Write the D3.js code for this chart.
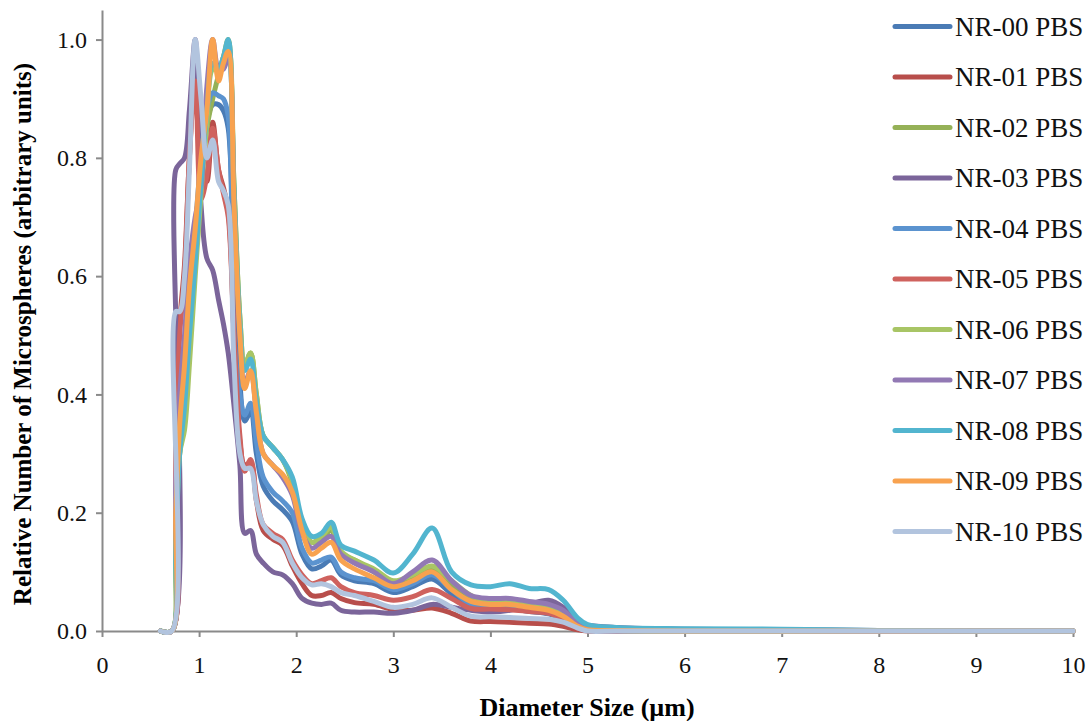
<!DOCTYPE html>
<html>
<head>
<meta charset="utf-8">
<script src="https://cdn.jsdelivr.net/npm/d3@7"></script>
<style>
  body { margin: 0; background: #fff; }
  svg { display: block; }
  svg text { font-family: "Liberation Serif", "Times New Roman", serif; }
</style>
</head>
<body>
<svg width="1088" height="721"></svg>
<script>
// diameter bins (µm), shared by every sample
const diameters = [0.6, 0.72, 0.76, 0.8, 0.85, 0.9, 0.96, 1.02, 1.08, 1.14, 1.2, 1.25, 1.3, 1.36, 1.42, 1.47,
    1.53, 1.59, 1.66, 1.76, 1.86, 1.96, 2.06, 2.16, 2.26, 2.36, 2.46, 2.6, 2.8, 3.0, 3.2, 3.4, 3.6, 3.8,
    4.0, 4.2, 4.4, 4.6, 4.75, 4.9, 5.0, 5.3, 6, 7, 8, 9, 10];

const seriesNames = ["NR-00 PBS", "NR-01 PBS", "NR-02 PBS", "NR-03 PBS", "NR-04 PBS", "NR-05 PBS",
    "NR-06 PBS", "NR-07 PBS", "NR-08 PBS", "NR-09 PBS", "NR-10 PBS"];

const seriesColors = ["#4a7bb5", "#b84e4b", "#95b157", "#7b659a", "#5b93cf", "#cf625e",
    "#a8c565", "#9279b4", "#52b5cf", "#f8a24f", "#b2c4de"];

const nr00 = [0, 0, 0.18, 0.33, 0.44, 0.54, 0.66, 0.78, 0.86, 0.89, 0.89, 0.88, 0.85, 0.6, 0.42, 0.355,
    0.37, 0.3, 0.245, 0.22, 0.205, 0.185, 0.13, 0.105, 0.11, 0.12, 0.095, 0.085, 0.08, 0.065, 0.075, 0.088,
    0.063, 0.043, 0.038, 0.038, 0.033, 0.029, 0.02, 0.005, 0.001, 0, 0, 0, 0, 0, 0];
const nr01 = [0, 0, 0.35, 0.52, 0.62, 0.8, 0.95, 0.8, 0.76, 0.86, 0.78, 0.75, 0.71, 0.5, 0.32, 0.28,
    0.285, 0.22, 0.17, 0.155, 0.145, 0.11, 0.08, 0.06, 0.06, 0.065, 0.055, 0.048, 0.045, 0.036, 0.035, 0.039,
    0.03, 0.017, 0.016, 0.015, 0.013, 0.012, 0.008, 0.002, 0, 0, 0, 0, 0, 0, 0];
const nr02 = [0, 0, 0.15, 0.3, 0.36, 0.5, 0.62, 0.75, 0.85, 0.9, 0.94, 0.97, 1.0, 0.75, 0.53, 0.45,
    0.47, 0.4, 0.33, 0.31, 0.29, 0.25, 0.18, 0.15, 0.155, 0.17, 0.13, 0.12, 0.1, 0.08, 0.09, 0.105,
    0.08, 0.055, 0.045, 0.045, 0.04, 0.035, 0.025, 0.008, 0.003, 0.001, 0, 0, 0, 0, 0];
const nr03 = [0, 0, 0.78, 0.79, 0.8, 0.88, 1.0, 0.72, 0.63, 0.61, 0.56, 0.52, 0.47, 0.38, 0.28, 0.165,
    0.17, 0.13, 0.115, 0.1, 0.095, 0.08, 0.055, 0.047, 0.045, 0.047, 0.035, 0.032, 0.032, 0.03, 0.035, 0.045,
    0.04, 0.035, 0.032, 0.035, 0.045, 0.052, 0.04, 0.015, 0.01, 0.006, 0.003, 0.002, 0.001, 0, 0];
const nr04 = [0, 0, 0.2, 0.35, 0.45, 0.55, 0.68, 0.8, 0.88, 0.91, 0.905, 0.9, 0.87, 0.5, 0.4, 0.365,
    0.385, 0.32, 0.26, 0.235, 0.22, 0.2, 0.14, 0.115, 0.12, 0.125, 0.1, 0.09, 0.085, 0.07, 0.08, 0.095,
    0.07, 0.045, 0.04, 0.04, 0.035, 0.03, 0.022, 0.006, 0.002, 0, 0, 0, 0, 0, 0];
const nr05 = [0, 0, 0.3, 0.5, 0.6, 0.8, 0.93, 0.73, 0.77, 0.85, 0.78, 0.74, 0.7, 0.5, 0.33, 0.27,
    0.29, 0.23, 0.18, 0.165, 0.155, 0.12, 0.095, 0.08, 0.085, 0.09, 0.075, 0.065, 0.06, 0.052, 0.058, 0.07,
    0.055, 0.038, 0.037, 0.036, 0.033, 0.03, 0.02, 0.005, 0.001, 0, 0, 0, 0, 0, 0];
const nr06 = [0, 0, 0.12, 0.3, 0.34, 0.45, 0.6, 0.74, 0.86, 0.95, 0.95, 0.97, 0.99, 0.75, 0.53, 0.45,
    0.47, 0.4, 0.33, 0.31, 0.29, 0.255, 0.18, 0.15, 0.16, 0.175, 0.135, 0.12, 0.105, 0.085, 0.095, 0.11,
    0.085, 0.06, 0.05, 0.05, 0.045, 0.04, 0.03, 0.01, 0.003, 0.001, 0, 0, 0, 0, 0];
const nr07 = [0, 0, 0.25, 0.4, 0.5, 0.62, 0.7, 0.75, 0.92, 1.0, 0.95, 0.95, 0.97, 0.73, 0.5, 0.42,
    0.44, 0.37, 0.3, 0.28, 0.26, 0.23, 0.165, 0.14, 0.15, 0.16, 0.13, 0.115, 0.1, 0.08, 0.1, 0.12,
    0.085, 0.06, 0.055, 0.055, 0.05, 0.045, 0.035, 0.012, 0.005, 0.003, 0.002, 0.001, 0, 0, 0];
const nr08 = [0, 0, 0.15, 0.3, 0.38, 0.5, 0.62, 0.76, 0.88, 0.96, 0.95, 0.97, 1.0, 0.74, 0.52, 0.44,
    0.46, 0.39, 0.33, 0.31, 0.29, 0.26, 0.19, 0.16, 0.165, 0.184, 0.145, 0.135, 0.12, 0.098, 0.13, 0.174,
    0.1, 0.078, 0.075, 0.08, 0.072, 0.07, 0.052, 0.022, 0.011, 0.006, 0.004, 0.003, 0.001, 0, 0];
const nr09 = [0, 0, 0.2, 0.35, 0.45, 0.58, 0.68, 0.8, 0.88, 1.0, 0.93, 0.96, 0.98, 0.72, 0.5, 0.41,
    0.44, 0.37, 0.3, 0.28, 0.265, 0.235, 0.17, 0.13, 0.14, 0.15, 0.12, 0.105, 0.09, 0.075, 0.085, 0.1,
    0.07, 0.05, 0.045, 0.045, 0.04, 0.035, 0.025, 0.008, 0.002, 0.001, 0, 0, 0, 0, 0];
const nr10 = [0, 0, 0.54, 0.54, 0.6, 0.78, 1.0, 0.9, 0.8, 0.83, 0.76, 0.745, 0.72, 0.45, 0.3, 0.275,
    0.275, 0.22, 0.18, 0.16, 0.15, 0.115, 0.09, 0.078, 0.08, 0.075, 0.065, 0.06, 0.05, 0.04, 0.045, 0.056,
    0.04, 0.025, 0.024, 0.023, 0.021, 0.02, 0.015, 0.005, 0, 0, 0, 0, 0, 0, 0];

const seriesValues = [nr00, nr01, nr02, nr03, nr04, nr05, nr06, nr07, nr08, nr09, nr10];

const xTicks = [0, 1, 2, 3, 4, 5, 6, 7, 8, 9, 10];
const yTicks = [0, 0.2, 0.4, 0.6, 0.8, 1.0];

const svg = d3.select("svg");
const axisColor = "#8a8a8a";
const serif = "'Liberation Serif', 'Times New Roman', serif";

const x = d3.scaleLinear().domain([0, 10]).range([102, 1073]);
const y = d3.scaleLinear().domain([0, 1.05]).range([631, 10]);

// axes
const xAxis = svg.append("g")
    .attr("transform", `translate(0,${y(0)})`)
    .call(d3.axisBottom(x).tickValues(xTicks).tickSize(6).tickSizeOuter(0).tickPadding(19));

const yAxis = svg.append("g")
    .attr("transform", `translate(${x(0)},0)`)
    .call(d3.axisLeft(y).tickValues(yTicks).tickFormat(d3.format(".1f")).tickSize(6).tickSizeOuter(0).tickPadding(9));

[xAxis, yAxis].forEach(g => {
    g.attr("font-family", serif).attr("font-size", 24);
    g.select(".domain").attr("stroke", axisColor).attr("stroke-width", 2);
    g.selectAll(".tick line").attr("stroke", axisColor).attr("stroke-width", 2);
    g.selectAll(".tick text")
     .attr("fill", "#111")
     .style("font-family", serif)
     .style("font-size", "24px");
});

// axis titles
svg.append("text")
   .attr("x", 587)
   .attr("y", 716)
   .attr("text-anchor", "middle")
   .style("font-family", serif)
   .style("font-weight", "bold")
   .style("font-size", "26px")
   .text("Diameter Size (µm)");

svg.append("text")
   .attr("transform", "translate(31,334) rotate(-90)")
   .attr("text-anchor", "middle")
   .style("font-family", serif)
   .style("font-weight", "bold")
   .style("font-size", "25px")
   .text("Relative Number of Microspheres (arbitrary units)");

// lines, last series on top
const line = d3.line()
    .x((d, i) => x(diameters[i]))
    .y(d => y(d))
    .curve(d3.curveCatmullRom.alpha(0.5));

svg.append("g")
   .selectAll("path")
   .data(seriesValues)
   .join("path")
   .attr("d", line)
   .attr("fill", "none")
   .attr("stroke", (d, i) => seriesColors[i])
   .attr("stroke-width", 5)
   .attr("stroke-linejoin", "round")
   .attr("stroke-linecap", "round");

// legend
const legend = svg.append("g")
    .selectAll("g")
    .data(seriesNames)
    .join("g")
    .attr("transform", (d, i) => `translate(895,${26.5 + i * 50.5})`);

legend.append("line")
      .attr("x1", 0)
      .attr("x2", 55)
      .attr("stroke", (d, i) => seriesColors[i])
      .attr("stroke-width", 5)
      .attr("stroke-linecap", "round");

legend.append("text")
      .attr("x", 60)
      .attr("y", 9)
      .style("font-family", serif)
      .style("font-size", "27px")
      .attr("fill", "#111")
      .text(d => d);
</script>
</body>
</html>
